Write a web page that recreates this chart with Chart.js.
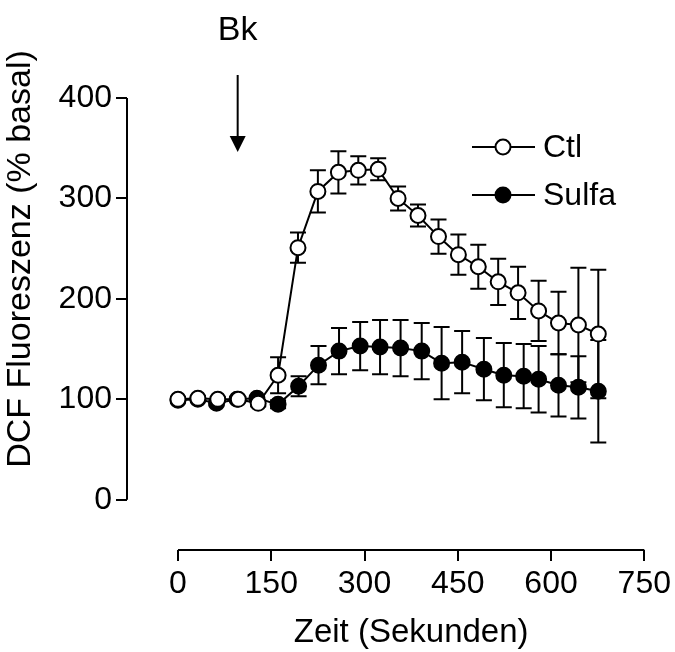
<!DOCTYPE html>
<html lang="de">
<head>
<meta charset="utf-8">
<title>DCF Fluoreszenz</title>
<script src="https://cdn.jsdelivr.net/npm/chart.js@4.4.1/dist/chart.umd.min.js"></script>
<style>
  html, body { margin: 0; padding: 0; background: #fff; }
  #wrap { width: 675px; height: 652px; }
</style>
</head>
<body>
<div id="wrap"><canvas id="chart" width="675" height="652"></canvas></div>
<script>
// time in seconds, values in % basal (mean +/- error)
const ctlTimes = [0, 32, 64, 97, 129, 161, 193, 225, 258, 290, 322, 354, 386, 419, 451, 483, 515, 547, 580, 612, 644, 676];
const ctlMean  = [100, 101, 100, 100, 96, 124, 251, 307, 326, 328, 329, 300, 283, 262, 244, 232, 217, 206, 188, 176, 174, 165];
const ctlErr   = [2, 2, 2, 2, 3, 18, 15, 21, 21, 14, 11, 12, 11, 17, 20, 22, 23, 26, 30, 31, 57, 64];

const sulfaTimes = [0, 32, 62, 95, 127, 161, 194, 226, 259, 293, 325, 358, 392, 424, 457, 492, 524, 556, 580, 612, 644, 676];
const sulfaMean  = [99, 100, 96, 100, 101, 95, 113, 134, 148, 153, 152, 151, 148, 136, 137, 130, 124, 123, 120, 114, 112, 108];
const sulfaErr   = [2, 2, 2, 2, 2, 4, 10, 19, 23, 24, 27, 28, 28, 36, 31, 31, 32, 32, 33, 31, 31, 51];

const xTicks = [0, 150, 300, 450, 600, 750];
const yTicks = [0, 100, 200, 300, 400];
const stimulusTime = 96;   // Bk added

const FONT = "'Liberation Sans', Arial, sans-serif";

const toPoints = (xs, ys) => xs.map((x, i) => ({ x, y: ys[i] }));

// error bars, drawn behind the markers
const errorBars = {
  id: 'errorBars',
  beforeDatasetsDraw(chart) {
    const { ctx, scales: { x, y } } = chart;
    const sets = [[ctlTimes, ctlMean, ctlErr], [sulfaTimes, sulfaMean, sulfaErr]];
    ctx.save();
    ctx.strokeStyle = '#000';
    ctx.lineWidth = 2;
    for (const [ts, ms, es] of sets) {
      ts.forEach((t, i) => {
        const px = x.getPixelForValue(t);
        const top = y.getPixelForValue(ms[i] + es[i]);
        const bot = y.getPixelForValue(ms[i] - es[i]);
        ctx.beginPath();
        ctx.moveTo(px, top); ctx.lineTo(px, bot);
        ctx.moveTo(px - 8, top); ctx.lineTo(px + 8, top);
        ctx.moveTo(px - 8, bot); ctx.lineTo(px + 8, bot);
        ctx.stroke();
      });
    }
    ctx.restore();
  }
};

// axis lines, titles, legend and the Bk arrow
const decorations = {
  id: 'decorations',
  afterDraw(chart) {
    const { ctx, scales: { x, y }, chartArea } = chart;
    ctx.save();
    ctx.strokeStyle = '#000';
    ctx.fillStyle = '#000';
    ctx.lineWidth = 2;

    // y axis line 0..400
    ctx.beginPath();
    ctx.moveTo(chartArea.left, y.getPixelForValue(yTicks[0]));
    ctx.lineTo(chartArea.left, y.getPixelForValue(yTicks[yTicks.length - 1]));
    // x axis line 0..750
    ctx.moveTo(x.getPixelForValue(xTicks[0]), chartArea.bottom);
    ctx.lineTo(x.getPixelForValue(xTicks[xTicks.length - 1]), chartArea.bottom);
    ctx.stroke();

    // titles
    ctx.textAlign = 'center';
    ctx.textBaseline = 'middle';
    const xMid = (x.getPixelForValue(xTicks[0]) + x.getPixelForValue(xTicks[xTicks.length - 1])) / 2;
    ctx.font = '33px ' + FONT;
    ctx.fillText('Zeit (Sekunden)', xMid, 633);
    ctx.save();
    ctx.translate(21, 259);
    ctx.rotate(-Math.PI / 2);
    ctx.font = '34px ' + FONT;
    ctx.fillText('DCF Fluoreszenz (% basal)', 0, 0);
    ctx.restore();

    // Bk arrow
    const ax = x.getPixelForValue(stimulusTime);
    ctx.font = '34px ' + FONT;
    ctx.fillText('Bk', ax, 31);
    ctx.beginPath();
    ctx.moveTo(ax, 75); ctx.lineTo(ax, 138);
    ctx.stroke();
    ctx.beginPath();
    ctx.moveTo(ax - 8, 136); ctx.lineTo(ax + 8, 136); ctx.lineTo(ax, 152);
    ctx.closePath();
    ctx.fill();

    // legend
    const rows = [['Ctl', '#fff', 147], ['Sulfa', '#000', 195]];
    ctx.textAlign = 'left';
    ctx.font = '32px ' + FONT;
    for (const [label, fill, ly] of rows) {
      ctx.beginPath();
      ctx.moveTo(472, ly); ctx.lineTo(535, ly);
      ctx.stroke();
      ctx.beginPath();
      ctx.arc(503, ly, 7.5, 0, Math.PI * 2);
      ctx.fillStyle = fill;
      ctx.fill();
      ctx.stroke();
      ctx.fillStyle = '#000';
      ctx.fillText(label, 543, ly + 1);
    }
    ctx.restore();
  }
};

new Chart(document.getElementById('chart'), {
  type: 'line',
  data: {
    datasets: [
      {
        label: 'Ctl',
        data: toPoints(ctlTimes, ctlMean),
        borderColor: '#000', borderWidth: 2,
        pointRadius: 7.5, pointBorderWidth: 2,
        pointBackgroundColor: '#fff', pointBorderColor: '#000',
        tension: 0
      },
      {
        label: 'Sulfa',
        data: toPoints(sulfaTimes, sulfaMean),
        borderColor: '#000', borderWidth: 2,
        pointRadius: 7.5, pointBorderWidth: 2,
        pointBackgroundColor: '#000', pointBorderColor: '#000',
        tension: 0
      }
    ]
  },
  options: {
    responsive: false,
    animation: false,
    layout: { padding: { top: 98, right: 29, left: 0, bottom: 0 } },
    plugins: { legend: { display: false }, tooltip: { enabled: false } },
    scales: {
      x: {
        type: 'linear',
        min: -82, max: 750,
        afterBuildTicks: s => { s.ticks = xTicks.map(v => ({ value: v })); },
        afterFit: s => { s.height = 102; },
        border: { display: false },
        grid: { drawOnChartArea: false, drawTicks: true, tickLength: 11, color: '#000', lineWidth: 2 },
        ticks: { color: '#000', font: { family: FONT, size: 32 }, padding: 4, maxRotation: 0, autoSkip: false }
      },
      y: {
        min: -50, max: 400,
        afterBuildTicks: s => { s.ticks = yTicks.map(v => ({ value: v })); },
        afterFit: s => { s.width = 127; },
        border: { display: false },
        grid: { drawOnChartArea: false, drawTicks: true, tickLength: 11, color: '#000', lineWidth: 2 },
        ticks: { color: '#000', font: { family: FONT, size: 32 }, padding: 4 }
      }
    }
  },
  plugins: [errorBars, decorations]
});
</script>
</body>
</html>
